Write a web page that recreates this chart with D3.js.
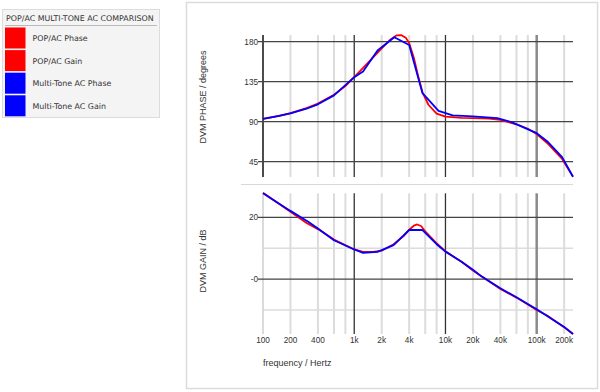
<!DOCTYPE html>
<html><head><meta charset="utf-8">
<script src="https://cdn.jsdelivr.net/npm/d3@7/dist/d3.min.js"></script>
<style>
body{margin:0;background:#fff;}
svg{display:block;}
</style></head>
<body><svg id="c" width="600" height="392"></svg>
<script>
// ---- data ----
const legendTitle = "POP/AC MULTI-TONE AC COMPARISON";
const seriesNames = ["POP/AC Phase", "POP/AC Gain", "Multi-Tone AC Phase", "Multi-Tone AC Gain"];
const seriesColors = ["#ff0000", "#ff0000", "#0000ff", "#0000ff"];

const popPhaseF = [100,150,200,300,400,600,800,1000,1250,1600,2000,2500,2900,3300,3700,4000,4500,5000,5600,6500,8000,10000,15000,20000,30000,40000,60000,80000,100000,130000,190000,250000];
const popPhaseV = [93,96.5,99.6,105.3,110.3,120.3,130,140,150.5,162,172.5,182.5,187,187.3,184,178.5,162,142,123,109,99,95.6,94.3,94,93.5,92,87,82,76,66,48,28];

const mtPhaseF = [100,150,200,300,400,600,1000,1250,1800,2750,4000,5600,8400,12000,20000,37000,53000,100000,130000,190000,250000];
const mtPhaseV = [93,96.4,99.2,104.5,109.5,119.5,140,146.5,170,185,176.3,122,102,97,96,94,89.5,77,68,50,28];

const popGainF = [100,200,300,400,600,1000,1250,1600,2000,2700,3500,4000,4500,4900,5400,6000,8000,10000,15000,20000,25000,40000,60000,100000,130000,200000,250000];
const popGainV = [28,21.8,18.2,16.2,12.8,9.6,8.8,8.8,9.2,11.3,14,16,17.3,17.7,17.2,15.5,11.6,9,5.6,2.8,0.8,-3.2,-6,-10,-11.8,-15.6,-17.8];

const mtGainF = [100,200,313,400,600,1000,1250,1800,2700,4000,5600,8000,10000,15000,20000,25000,40000,60000,100000,200000,250000];
const mtGainV = [27.8,22.1,18.6,16.4,12.6,9.6,8.5,8.8,11,15.9,15.9,11.3,8.9,5.6,3,0.8,-3,-5.9,-9.8,-15.5,-17.8];

const xTickValues = [100,200,400,1000,2000,4000,10000,20000,40000,100000,200000];
const xTickLabels = ["100","200","400","1k","2k","4k","10k","20k","40k","100k","200k"];
const xMinorGrid = [200,400,600,800,2000,4000,6000,8000,20000,40000,60000,80000,200000];
const xMajorGrid = [1000,10000];
const xMidGrid = [100000];

const phaseTicks = [45,90,135,180];
const phaseTickLabels = ["45","90","135","180"];
const gainMajor = [20,0];
const gainMajorLabels = ["20","-0"];
const gainMinor = [10,-10];

// ---- drawing ----
const svg = d3.select("#c");
const font = "'Liberation Sans', Arial, sans-serif";
const lfont = "'DejaVu Sans', Verdana, sans-serif";
const tickSize = "8.2px";

// legend
const lg = svg.append("g");
lg.append("rect").attr("x",2.5).attr("y",9.5).attr("width",157).attr("height",108)
  .attr("fill","#f4f4f4").attr("stroke","#dcdcdc");
lg.append("text").attr("x",6).attr("y",20.5).text(legendTitle)
  .attr("font-family",lfont).attr("font-size","7.9px").attr("fill","#333");
lg.append("line").attr("x1",5).attr("x2",157).attr("y1",25.5).attr("y2",25.5).attr("stroke","#bbb");
seriesNames.forEach((n,i)=>{
  const y0 = 27.5 + i*22.6;
  lg.append("rect").attr("x",5).attr("y",y0).attr("width",20.5).attr("height",21).attr("fill",seriesColors[i]);
  lg.append("text").attr("x",32.5).attr("y",y0+13.5).text(n)
    .attr("font-family",lfont).attr("font-size","7.9px").attr("fill","#333");
});

// panel
svg.append("rect").attr("x",186.5).attr("y",2.5).attr("width",411).attr("height",386)
  .attr("fill","#fff").attr("stroke","#dcdcdc").attr("stroke-width",1.5);

const x = d3.scaleLog().domain([100,250000]).range([263,573]);
const yP = d3.scaleLinear().domain([28,187.5]).range([176.7,35]);
const yG = d3.scaleLinear().domain([-17.8,27.8]).range([334,193.3]);

function vgrid(g, ys, leftAxisColor){
  const [y1,y2] = ys;
  g.selectAll(".mi").data(xMinorGrid).enter().append("line")
    .attr("x1",d=>x(d)).attr("x2",d=>x(d)).attr("y1",y1).attr("y2",y2)
    .attr("stroke","#dcdcdc").attr("stroke-width",2);
  g.selectAll(".md").data(xMidGrid).enter().append("line")
    .attr("x1",d=>x(d)).attr("x2",d=>x(d)).attr("y1",y1).attr("y2",y2)
    .attr("stroke","#8a8a8a").attr("stroke-width",2.5);
  g.selectAll(".ma").data(xMajorGrid).enter().append("line")
    .attr("x1",d=>x(d)).attr("x2",d=>x(d)).attr("y1",y1).attr("y2",y2)
    .attr("stroke","#333").attr("stroke-width",1.3);
  g.append("line").attr("x1",x(100)).attr("x2",x(100)).attr("y1",y1).attr("y2",y2)
    .attr("stroke",leftAxisColor).attr("stroke-width",1.5);
}

// top plot
const gt = svg.append("g");
vgrid(gt, [35,177], "#111");
gt.selectAll(".h").data(phaseTicks).enter().append("line")
  .attr("x1",258).attr("x2",573).attr("y1",d=>yP(d)).attr("y2",d=>yP(d))
  .attr("stroke","#444").attr("stroke-width",1.3);
gt.selectAll(".t").data(phaseTicks).enter().append("text")
  .attr("x",258).attr("y",d=>yP(d)+3).attr("text-anchor","end")
  .text((d,i)=>phaseTickLabels[i]).attr("font-family",font).attr("font-size",tickSize).attr("fill","#333");

// separator
svg.append("line").attr("x1",241).attr("x2",573).attr("y1",184.5).attr("y2",184.5)
  .attr("stroke","#d8d8d8").attr("stroke-width",1.2);

// bottom plot
const gb = svg.append("g");
gb.selectAll(".hm").data(gainMinor).enter().append("line")
  .attr("x1",263).attr("x2",573).attr("y1",d=>yG(d)).attr("y2",d=>yG(d))
  .attr("stroke","#dcdcdc").attr("stroke-width",1.5);
vgrid(gb, [193.3,334], "#cfcfcf");
gb.selectAll(".h").data(gainMajor).enter().append("line")
  .attr("x1",258).attr("x2",573).attr("y1",d=>yG(d)).attr("y2",d=>yG(d))
  .attr("stroke","#444").attr("stroke-width",1.3);
gb.selectAll(".t").data(gainMajor).enter().append("text")
  .attr("x",258).attr("y",d=>yG(d)+3).attr("text-anchor","end")
  .text((d,i)=>gainMajorLabels[i]).attr("font-family",font).attr("font-size",tickSize).attr("fill","#333");

// x tick labels
svg.selectAll(".xl").data(xTickValues).enter().append("text")
  .attr("x",d=>x(d)).attr("y",343).attr("text-anchor","middle")
  .text((d,i)=>xTickLabels[i]).attr("font-family",font).attr("font-size",tickSize).attr("fill","#333");

// titles
svg.append("text").attr("x",263).attr("y",366).text("frequency / Hertz")
  .attr("font-family",font).attr("font-size","9px").attr("fill","#333");
svg.append("text").attr("transform","translate(206,97) rotate(-90)").attr("text-anchor","middle")
  .text("DVM PHASE / degrees").attr("font-family",font).attr("font-size","9px").attr("fill","#333");
svg.append("text").attr("transform","translate(206,261) rotate(-90)").attr("text-anchor","middle")
  .text("DVM GAIN / dB").attr("font-family",font).attr("font-size","9px").attr("fill","#333");

// lines
function drawLine(F,V,y,color){
  const pts = F.map((f,i)=>[f,V[i]]);
  svg.append("path").datum(pts)
    .attr("d", d3.line().x(d=>x(d[0])).y(d=>y(d[1])))
    .attr("fill","none").attr("stroke",color).attr("stroke-width",1.8).attr("stroke-linejoin","round");
}
drawLine(popPhaseF, popPhaseV, yP, seriesColors[0]);
drawLine(popGainF, popGainV, yG, seriesColors[1]);
drawLine(mtPhaseF, mtPhaseV, yP, seriesColors[2]);
drawLine(mtGainF, mtGainV, yG, seriesColors[3]);
</script></body></html>
